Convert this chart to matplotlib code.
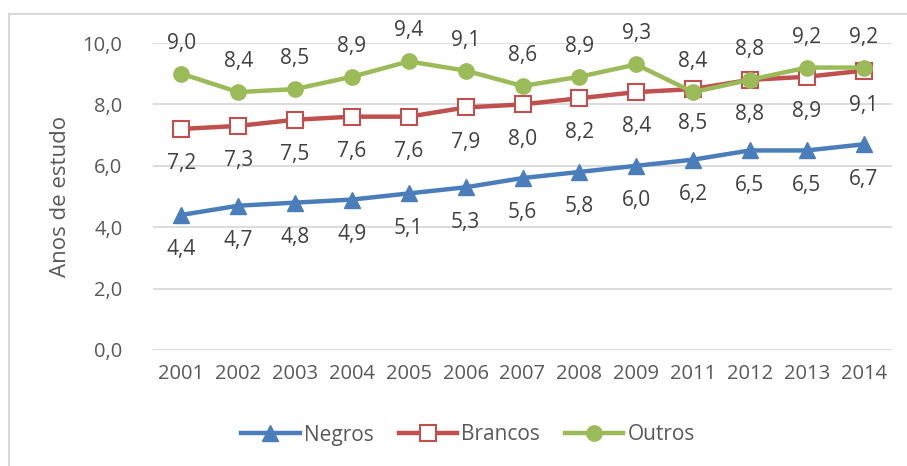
import matplotlib
matplotlib.use("Agg")
import matplotlib.pyplot as plt
from matplotlib.patches import Rectangle

years = ["2001", "2002", "2003", "2004", "2005", "2006", "2007", "2008", "2009", "2011", "2012", "2013", "2014"]
negros = [4.4, 4.7, 4.8, 4.9, 5.1, 5.3, 5.6, 5.8, 6.0, 6.2, 6.5, 6.5, 6.7]
brancos = [7.2, 7.3, 7.5, 7.6, 7.6, 7.9, 8.0, 8.2, 8.4, 8.5, 8.8, 8.9, 9.1]
outros = [9.0, 8.4, 8.5, 8.9, 9.4, 9.1, 8.6, 8.9, 9.3, 8.4, 8.8, 9.2, 9.2]
yticks = [0, 2, 4, 6, 8, 10]

plt.rcParams['font.family'] = ['Open Sans', 'DejaVu Sans']

W, H = 907, 466
fig = plt.figure(figsize=(W / 100, H / 100), dpi=100)
ax = fig.add_axes([153 / W, 1 - 350 / H, (892 - 153) / W, (350 - 43) / H])

# outer border
fig.patches.append(Rectangle((9 / W, -0.1), 1.2, 1 - 14 / H + 0.1, transform=fig.transFigure,
                             fill=False, edgecolor='#d9d9d9', linewidth=1.5))

x = list(range(len(years)))
blue, red, green = '#4a7ebb', '#c0504d', '#9bbb59'
ax.plot(x, negros, color=blue, lw=3.2, marker='^', ms=11, mfc=blue, mec=blue, label='Negros', zorder=3)
ax.plot(x, brancos, color=red, lw=3.2, marker='s', ms=11, mfc='white', mec=red, mew=1.5, label='Brancos', zorder=3)
ax.plot(x, outros, color=green, lw=3.2, marker='o', ms=11, mfc=green, mec=green, label='Outros', zorder=4)

lab_kw = dict(ha='center', va='center', fontsize=15, color='#404040')
for xi, v in zip(x, negros):
    ax.annotate(f"{v:.1f}".replace('.', ','), (xi, v), xytext=(0, -25), textcoords='offset points', **lab_kw)
for xi, v in zip(x, brancos):
    ax.annotate(f"{v:.1f}".replace('.', ','), (xi, v), xytext=(0, -25), textcoords='offset points', **lab_kw)
for xi, v in zip(x, outros):
    ax.annotate(f"{v:.1f}".replace('.', ','), (xi, v), xytext=(0, 22), textcoords='offset points', **lab_kw)

ax.set_xlim(-0.5, len(years) - 0.5)
ax.set_ylim(0, 10)
ax.set_yticks(yticks)
ax.set_yticklabels([f"{t:.1f}".replace('.', ',') for t in yticks])
ax.set_xticks(x)
ax.set_xticklabels(years)
ax.tick_params(axis='both', length=0, labelsize=14.5, labelcolor='#595959')
ax.tick_params(axis='y', pad=22)
ax.tick_params(axis='x', pad=10)
ax.grid(axis='y', color='#d9d9d9', lw=1.3)
ax.set_axisbelow(True)
for s in ax.spines.values():
    s.set_visible(False)
ax.set_ylabel('Anos de estudo', fontsize=16, color='#595959', labelpad=8)

leg = fig.legend(loc='center', bbox_to_anchor=(468 / W, 1 - 435 / H), ncol=3, frameon=False,
                 fontsize=15, handlelength=2.8, columnspacing=1.2, handletextpad=0.2)
for t in leg.get_texts():
    t.set_color('#595959')

fig.savefig('out.png', dpi=100)
